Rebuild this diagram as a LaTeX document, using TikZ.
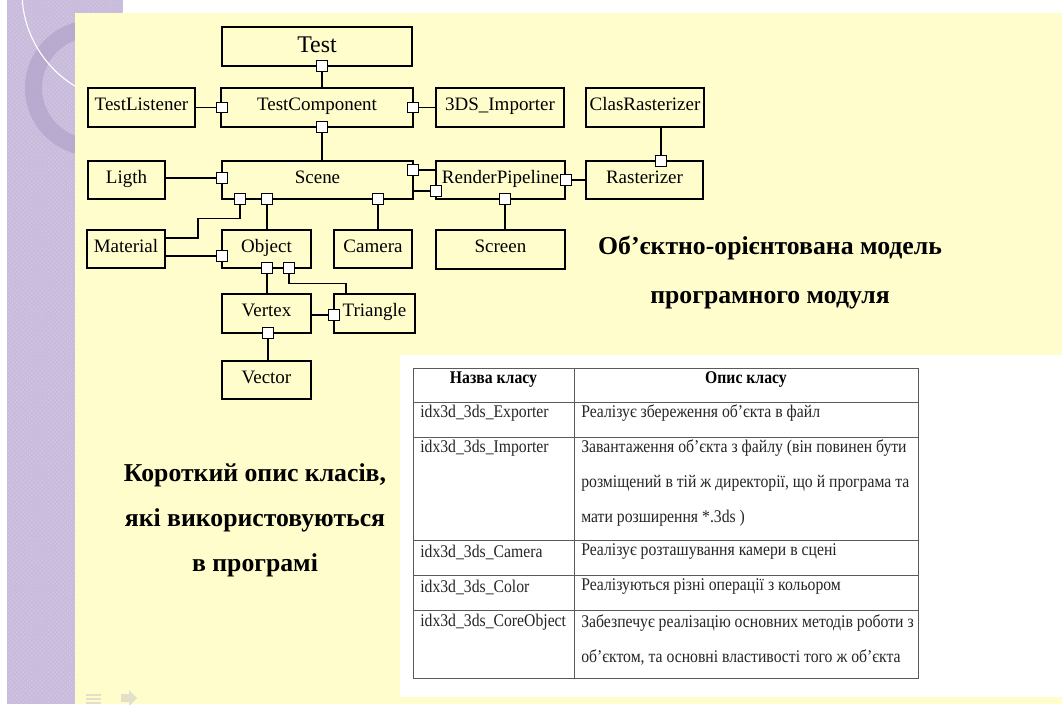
\documentclass[tikz,border=0pt]{standalone}
\usepackage{fontspec}
\setmainfont{Liberation Serif}
\newfontfamily\tabfont[FakeStretch=0.88]{Liberation Serif}
\usetikzlibrary{positioning,patterns}
\definecolor{slideyellow}{HTML}{FFFDCC}
\definecolor{slidelilac}{HTML}{C8BBDC}
\definecolor{ringlilac}{HTML}{B3A6CB}
\definecolor{gridgray}{HTML}{5A5A5A}
\definecolor{icongray}{HTML}{E2E0C8}

\begin{document}
\begin{tikzpicture}[x=0.025cm, y=-0.025cm,
    box/.style={draw, line width=1.4pt, minimum height=0.97cm, inner sep=1pt,
                text height=9pt, text depth=4.6pt, font=\fontsize{13.5}{16}\selectfont},
    port/.style={draw, line width=0.8pt, fill=white, minimum size=0.26cm, inner sep=0pt},
    link/.style={line width=1pt},
    heading/.style={align=center, font=\fontsize{18.3}{34.9}\selectfont\bfseries},
    cell/.style={anchor=west, inner sep=0pt, font=\tabfont\fontsize{12.7}{24.9}\selectfont, text=black!85},
    headcell/.style={inner sep=0pt, font=\tabfont\fontsize{12.7}{24.9}\selectfont\bfseries},
    rule/.style={draw=gridgray, line width=0.7pt}]
  \useasboundingbox (0,0) rectangle (1062,704);
  \fill[white] (0,0) rectangle (1062,704);
  \fill[slidelilac] (7,0) rectangle (123,704);
  \fill[pattern=crosshatch dots, pattern color=white, opacity=0.25] (7,0) rectangle (123,704);
  \fill[ringlilac, fill opacity=0.8, even odd rule] (93,88) circle[radius=68] (93,88) circle[radius=51];
  \draw[white, line width=0.8pt] (132,-8) circle[radius=110];
  \fill[slideyellow] (75,13) rectangle (1062,704);
  \fill[white] (400,355) rectangle (1062,697);

  \node[box, minimum width=4.75cm, text height=12pt, text depth=2.8pt,
        font=\fontsize{17}{19}\selectfont] (test) at (317,46.5) {Test};
  \node[box, minimum width=2.675cm] (listener) at (141.5,107.5) {TestListener};
  \node[box, minimum width=4.8cm] (tcomp) at (317,107.5) {TestComponent};
  \node[box, minimum width=3.2cm] (importer) at (500,107.5) {3DS\_Importer};
  \node[box, minimum width=2.95cm] (clasr) at (645,107.5) {ClasRasterizer};
  \node[box, minimum width=1.925cm] (light) at (126.5,180) {Ligth};
  \node[box, minimum width=4.775cm] (scene) at (317.5,180) {Scene};
  \node[box, minimum width=3.225cm] (render) at (500.5,180) {RenderPipeline};
  \node[box, minimum width=2.925cm] (raster) at (644.5,180) {Rasterizer};
  \node[box, minimum width=1.95cm] (material) at (126,249) {Material};
  \node[box, minimum width=2.225cm] (object) at (266.5,249) {Object};
  \node[box, minimum width=1.95cm] (camera) at (373,249) {Camera};
  \node[box, minimum width=3.225cm] (screen) at (500.5,249.5) {Screen};
  \node[box, minimum width=2.225cm] (vertex) at (266.5,313.5) {Vertex};
  \node[box, minimum width=2.025cm] (triangle) at (374.5,313.5) {Triangle};
  \node[box, minimum width=2.225cm] (vector) at (266.5,380) {Vector};

  \node[port] (test-s) at (322,66) {};
  \node[port] (tc-w) at (222,107.5) {};
  \node[port] (tc-e) at (413,107.5) {};
  \node[port] (tc-s) at (322,127) {};
  \node[port] (sc-w) at (222,178) {};
  \node[port] (sc-ne) at (413,170) {};
  \node[port] (sc-s1) at (240,199) {};
  \node[port] (sc-s2) at (267,199) {};
  \node[port] (sc-s3) at (378,199) {};
  \node[port] (rp-w) at (436,191) {};
  \node[port] (rp-e) at (566,180) {};
  \node[port] (rp-s) at (505,199) {};
  \node[port] (ra-n) at (661,161) {};
  \node[port] (ob-w) at (222,256) {};
  \node[port] (ob-s1) at (267,268) {};
  \node[port] (ob-s2) at (289,268) {};
  \node[port] (tr-w) at (334,315) {};
  \node[port] (ve-s) at (268,333) {};

  \draw[link] (test-s) -- (test-s |- tcomp.north);
  \draw[link] (listener) -- (tc-w);
  \draw[link] (tc-e) -- (importer);
  \draw[link] (tc-s) -- (tc-s |- scene.north);
  \draw[link] (sc-w) -- (sc-w -| light.east);
  \draw[link] (sc-ne) -- (sc-ne -| render.west);
  \draw[link] (rp-w) -- (rp-w -| scene.east);
  \draw[link] (sc-s1.south) |- ++(-42,14) coordinate (matbend) |- ([yshift=7.8pt]material.east);
  \draw[link] (sc-s2) -- (sc-s2 |- object.north);
  \draw[link] (sc-s3) -- (sc-s3 |- camera.north);
  \draw[link] (rp-e) -- (raster);
  \draw[link] (rp-s) -- (rp-s |- screen.north);
  \draw[link] (ra-n) -- (ra-n |- clasr.south);
  \draw[link] (ob-w) -- (ob-w -| material.east);
  \draw[link] (ob-s1) -- (ob-s1 |- vertex.north);
  \draw[link] (ob-s2.south) |- ++(57,10) coordinate (trjoin) -- (trjoin |- triangle.north);
  \draw[link] (tr-w) -- (tr-w -| vertex.east);
  \draw[link] (ve-s) -- (ve-s |- vector.north);

  \node[heading] (modeltitle) at (770,272.5) {Об’єктно-орієнтована модель\\програмного модуля};
  \node[heading, font=\fontsize{18.3}{32}\selectfont\bfseries] (classtitle) at (255,520)
    {Короткий опис класів,\\які використовуються\\в програмі};

  \draw[rule] (413,368) rectangle (918,678);
  \draw[rule] (574,368) -- (574,678);
  \draw[rule] (413,402) -- (918,402);
  \draw[rule] (413,437) -- (918,437);
  \draw[rule] (413,540) -- (918,540);
  \draw[rule] (413,575) -- (918,575);
  \draw[rule] (413,610) -- (918,610);
  \node[headcell] (hname) at (493.5,380) {Назва класу};
  \node[headcell] (hdesc) at (746,380) {Опис класу};
  \node[cell] (c1) at (420,413) {idx3d\_3ds\_Exporter};
  \node[cell] (d1) at (581,413) {Реалізує збереження об’єкта в файл};
  \node[cell] (c2) at (420,448) {idx3d\_3ds\_Importer};
  \node[cell, align=left] (d2) at (581,483)
    {Завантаження об’єкта з файлу (він повинен бути\\розміщений в тій ж директорії, що й програма та\\мати розширення *.3ds )};
  \node[cell] (c3) at (420,552) {idx3d\_3ds\_Camera};
  \node[cell] (d3) at (581,552) {Реалізує розташування камери в сцені};
  \node[cell] (c4) at (420,587) {idx3d\_3ds\_Color};
  \node[cell] (d4) at (581,587) {Реалізуються різні операції з кольором};
  \node[cell] (c5) at (420,622) {idx3d\_3ds\_CoreObject};
  \node[cell, align=left] (d5) at (581,639.5)
    {Забезпечує реалізацію основних методів роботи з\\об’єктом, та основні властивості того ж об’єкта};

  \draw[icongray, line width=1.2pt] (86,695) -- (101,695) (86,699) -- (101,699) (86,703) -- (101,703);
  \fill[icongray] (121,694) -- (129,694) -- (129,690) -- (137,698) -- (129,706) -- (129,702) -- (121,702) -- cycle;
\end{tikzpicture}
\end{document}
